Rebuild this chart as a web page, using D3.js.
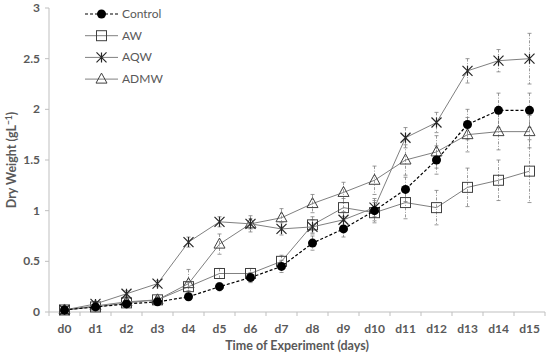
<!DOCTYPE html>
<html><head><meta charset="utf-8">
<script src="https://cdn.jsdelivr.net/npm/d3@7"></script>
<style>body{margin:0;background:#fff}svg{display:block;font-family:Lato,"Open Sans",sans-serif}</style>
</head><body><svg id="c" width="550" height="361"></svg>
<script>
const days = ["d0","d1","d2","d3","d4","d5","d6","d7","d8","d9","d10","d11","d12","d13","d14","d15"];
const yTicks = [0,0.5,1,1.5,2,2.5,3];
const seriesNames = ["Control","AW","AQW","ADMW"];
const control = [0.02,0.05,0.08,0.10,0.15,0.25,0.34,0.45,0.68,0.82,1.00,1.21,1.50,1.85,1.99,1.99];
const controlErr = [0.01,0.02,0.02,0.03,0.03,0.04,0.05,0.06,0.07,0.08,0.1,0.12,0.14,0.15,0.17,0.17];
const aw = [0.02,0.05,0.09,0.12,0.25,0.38,0.38,0.50,0.86,1.03,0.98,1.08,1.03,1.23,1.30,1.39];
const awErr = [0.01,0.02,0.02,0.03,0.04,0.05,0.05,0.06,0.08,0.09,0.1,0.16,0.17,0.19,0.2,0.31];
const aqw = [0.02,0.08,0.18,0.28,0.69,0.89,0.87,0.82,0.84,0.91,1.03,1.72,1.87,2.38,2.48,2.50];
const aqwErr = [0.01,0.02,0.03,0.03,0.05,0.05,0.05,0.06,0.07,0.08,0.09,0.1,0.1,0.12,0.11,0.25];
const admw = [0.02,0.06,0.10,0.12,0.28,0.67,0.87,0.93,1.07,1.18,1.30,1.50,1.58,1.75,1.78,1.78];
const admwErr = [0.01,0.02,0.02,0.03,0.14,0.1,0.08,0.09,0.09,0.1,0.14,0.15,0.16,0.17,0.18,0.16];

const svg = d3.select("#c");
const x = d3.scaleBand().domain(days).range([49,545]);
const y = d3.scaleLinear().domain([0,3]).range([312,8]);
const cx = d => x(d)+x.bandwidth()/2;
const grey = "#595959";

// axes
const xa = svg.append("g").attr("transform","translate(0,312)");
xa.append("line").attr("x1",49).attr("x2",545).attr("stroke","#bfbfbf");
xa.selectAll("line.t").data(d3.range(days.length+1)).enter().append("line")
  .attr("x1",i=>49+i*x.bandwidth()).attr("x2",i=>49+i*x.bandwidth()).attr("y1",0).attr("y2",4).attr("stroke","#bfbfbf");
xa.selectAll("text").data(days).enter().append("text").attr("x",cx).attr("y",21)
  .attr("text-anchor","middle").attr("font-size",12).attr("font-weight","bold").attr("fill",grey).text(d=>d);
const ya = svg.append("g");
ya.append("line").attr("x1",49).attr("x2",49).attr("y1",8).attr("y2",312).attr("stroke","#bfbfbf");
ya.selectAll("line.t").data(yTicks).enter().append("line").attr("x1",45).attr("x2",49)
  .attr("y1",d=>y(d)).attr("y2",d=>y(d)).attr("stroke","#bfbfbf");
ya.selectAll("text").data(yTicks).enter().append("text").attr("x",40).attr("y",d=>y(d)+4)
  .attr("text-anchor","end").attr("font-size",12).attr("font-weight","bold").attr("fill",grey).text(d=>d);

svg.append("text").attr("x",297).attr("y",350).attr("text-anchor","middle").attr("font-size",12.5)
  .attr("font-weight","bold").attr("fill",grey).text("Time of Experiment (days)");
const yl = svg.append("text").attr("transform","translate(16,160) rotate(-90)").attr("text-anchor","middle")
  .attr("font-size",12.5).attr("font-weight","bold").attr("fill",grey);
yl.append("tspan").text("Dry Weight (gL");
yl.append("tspan").attr("font-size",8.5).attr("dy",-4).text("−1");
yl.append("tspan").attr("dy",4).text(")");

const series = [
  {name:"Control", v:control, e:controlErr, dash:"3,2", stroke:"#000", marker:"circle"},
  {name:"AW", v:aw, e:awErr, dash:null, stroke:"#808080", marker:"square"},
  {name:"AQW", v:aqw, e:aqwErr, dash:null, stroke:"#808080", marker:"aster"},
  {name:"ADMW", v:admw, e:admwErr, dash:null, stroke:"#808080", marker:"tri"}
];

function drawMarker(g, type, px, py){
  if(type==="circle") g.append("circle").attr("cx",px).attr("cy",py).attr("r",4.5).attr("fill","#000");
  else if(type==="square") g.append("rect").attr("x",px-5).attr("y",py-5).attr("width",10).attr("height",10)
    .attr("fill","none").attr("stroke","#404040").attr("stroke-width",1);
  else if(type==="tri") g.append("path").attr("d",`M${px},${py-6}L${px+5.5},${py+4}L${px-5.5},${py+4}Z`)
    .attr("fill","none").attr("stroke","#404040").attr("stroke-width",1);
  else {
    const r=5;
    g.append("path").attr("d",`M${px-r},${py-r}L${px+r},${py+r}M${px-r},${py+r}L${px+r},${py-r}M${px},${py-r}L${px},${py+r}`)
      .attr("stroke","#262626").attr("stroke-width",1.2).attr("fill","none");
  }
}

// error bars
series.forEach(s=>{
  const g = svg.append("g");
  days.forEach((d,i)=>{
    const px=cx(d), y1=y(s.v[i]+s.e[i]), y2=y(Math.max(0,s.v[i]-s.e[i]));
    g.append("line").attr("x1",px).attr("x2",px).attr("y1",y1).attr("y2",y2)
      .attr("stroke","#7f7f7f").attr("stroke-width",0.8).attr("stroke-dasharray","3,1.5,1,1.5");
    [y1,y2].forEach(yy=>g.append("line").attr("x1",px-2).attr("x2",px+2).attr("y1",yy).attr("y2",yy)
      .attr("stroke","#7f7f7f").attr("stroke-width",0.8));
  });
});

// lines and markers
const line = d3.line().x((v,i)=>cx(days[i])).y(v=>y(v));
[series[1],series[3],series[2],series[0]].forEach(s=>{
  svg.append("path").datum(s.v).attr("d",line).attr("fill","none").attr("stroke",s.stroke)
    .attr("stroke-width",s.marker==="circle"?1.2:1).attr("stroke-dasharray",s.dash);
  const g=svg.append("g");
  s.v.forEach((v,i)=>drawMarker(g,s.marker,cx(days[i]),y(v)));
});

// legend
series.forEach((s,i)=>{
  const ly = 14 + i*21.7;
  svg.append("line").attr("x1",85).attr("x2",118).attr("y1",ly).attr("y2",ly).attr("stroke",s.stroke)
    .attr("stroke-width",s.marker==="circle"?1.2:1).attr("stroke-dasharray",s.dash);
  drawMarker(svg.append("g"), s.marker, 101.5, ly);
  svg.append("text").attr("x",122).attr("y",ly+4).attr("font-size",12).attr("fill",grey).text(s.name);
});
</script></body></html>
